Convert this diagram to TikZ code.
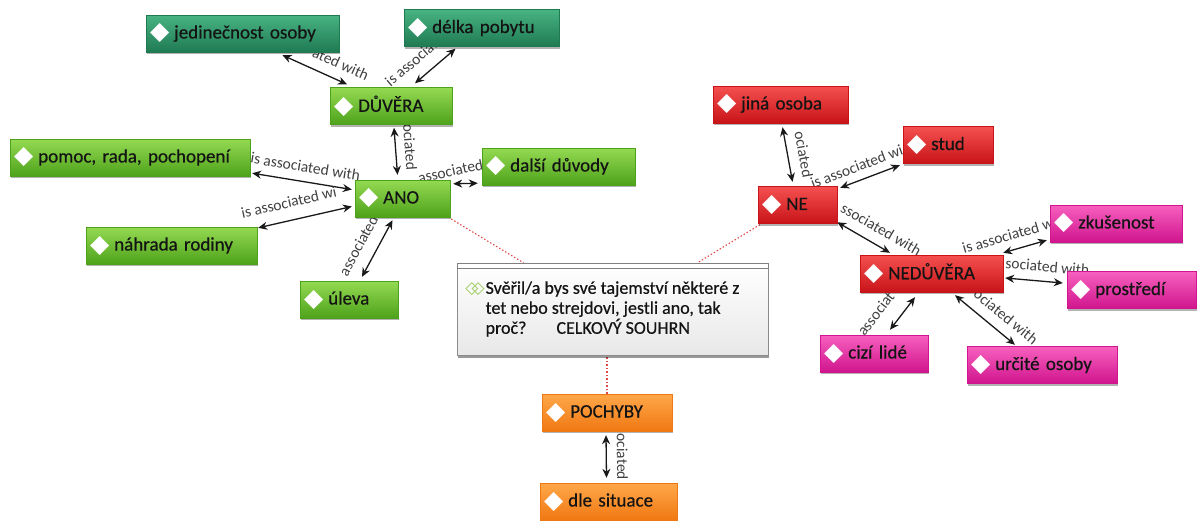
\documentclass[tikz,border=0pt]{standalone}
\usepackage{fontspec}
\setmainfont{Carlito}
\newfontfamily\codefont{Carlito}[BoldFont={Carlito}, BoldFeatures={FakeBold=0.5}]
\newfontfamily\symbfont{DejaVu Sans}
\usetikzlibrary{arrows.meta, backgrounds, shadows}

\definecolor{gtop}{HTML}{94DA52}
\definecolor{gbot}{HTML}{4EA21B}
\definecolor{ttop}{HTML}{48B383}
\definecolor{tbot}{HTML}{1F7A52}
\definecolor{rtop}{HTML}{F55050}
\definecolor{rbot}{HTML}{C81418}
\definecolor{mtop}{HTML}{F760BE}
\definecolor{mbot}{HTML}{D0158E}
\definecolor{otop}{HTML}{FFA84A}
\definecolor{obot}{HTML}{F07812}
\definecolor{linkred}{HTML}{E04848}
\definecolor{memogreen}{HTML}{9BCB5E}

\newcommand{\ico}{\raisebox{-1.5pt}{\symbfont\fontsize{25}{25}\selectfont\textcolor{white}{◆}}\hspace{5pt}}
\newcommand{\memoico}{{\symbfont\fontsize{17}{17}\selectfont\textcolor{memogreen}{◇\kern-7pt◇}}}

\begin{document}
\begin{tikzpicture}[
    x=1pt, y=-1pt,
    code/.style={rectangle, minimum height=37pt, inner xsep=4pt, inner ysep=0pt, align=left,
        font=\codefont\bfseries\fontsize{19}{21}\selectfont, text=black!92, draw=#1bot, top color=#1top, bottom color=#1bot,
        drop shadow={shadow xshift=1pt, shadow yshift=-2pt, fill=black, opacity=0.3}},
    memo/.style={rectangle, draw=black!45, top color=white, bottom color=black!9, minimum width=311pt,
        minimum height=92pt, align=left, font=\codefont\bfseries\fontsize{18}{20}\selectfont, text=black!92,
        drop shadow={shadow xshift=1pt, shadow yshift=-2.5pt, fill=black, opacity=0.4}},
    assoc/.style={{Stealth[length=9pt, width=8pt]}-{Stealth[length=9pt, width=8pt]}, line width=1.3pt, black!90},
    lbl/.style={font=\fontsize{15.5}{15.5}\selectfont, text=black!75, inner sep=1pt},
    link/.style={draw=linkred, line width=1.1pt, dash pattern=on 1.5pt off 2pt},
]
\useasboundingbox (0,0) rectangle (1202,520);

\node[code=t, text width=185pt] (jedinecnost) at (242.5,33.5) {\ico jedinečnost osoby};
\node[code=t, text width=147pt] (delka) at (481.5,28) {\ico délka pobytu};
\node[code=g, text width=114pt] (duvera) at (391,106) {\ico DŮVĚRA};
\node[code=g, text width=232pt] (pomoc) at (130,157.5) {\ico pomoc, rada, pochopení};
\node[code=g, text width=145pt] (dalsi) at (558.5,166.5) {\ico další důvody};
\node[code=g, text width=87pt] (ano) at (402.5,198.5) {\ico ANO};
\node[code=g, text width=163pt] (nahrada) at (171.5,245.5) {\ico náhrada rodiny};
\node[code=g, text width=90pt] (uleva) at (349,299.5) {\ico úleva};

\node[memo] (souhrn) at (612.5,309) {\llap{\memoico\hspace{1pt}}Svěřil/a bys své tajemství některé z\\
    tet nebo strejdovi, jestli ano, tak\\
    proč?\hspace{30pt}CELKOVÝ SOUHRN};
\draw[fill=white, draw=black!50] (souhrn.north west) rectangle ([yshift=-5pt]souhrn.north east);

\node[code=o, text width=122pt] (pochyby) at (607,412.5) {\ico POCHYBY};
\node[code=o, text width=129pt] (situace) at (608.5,501.5) {\ico dle situace};

\node[code=r, text width=127pt] (jina) at (780.5,104.5) {\ico jiná osoba};
\node[code=r, text width=82pt] (stud) at (948,145) {\ico stud};
\node[code=r, text width=71pt] (ne) at (797.5,205) {\ico NE};
\node[code=r, text width=135pt] (neduvera) at (931.5,273.5) {\ico NEDŮVĚRA};
\node[code=m, text width=124pt] (zkusenost) at (1116,223.5) {\ico zkušenost};
\node[code=m, text width=121pt] (prostredi) at (1131.5,290) {\ico prostředí};
\node[code=m, text width=100pt] (cizi) at (874,353.5) {\ico cizí lidé};
\node[code=m, text width=142pt] (urcite) at (1042,365) {\ico určité osoby};

\begin{scope}[on background layer]
\draw[assoc] ([xshift=40pt,yshift=-3pt]jedinecnost.south) -- node[lbl, sloped, pos=.8, above=9pt] {ated with} ([xshift=-44pt,yshift=3pt]duvera.north);
\draw[assoc] ([xshift=24pt,yshift=4pt]duvera.north) -- node[lbl, sloped, pos=.2, above=11pt] {is associat} ([xshift=-26pt,yshift=-2pt]delka.south);
\draw[assoc] ([xshift=3pt,yshift=-3pt]duvera.south) -- node[lbl, sloped, pos=.43, above=7.5pt] {ociated} ([xshift=-5pt,yshift=5pt]ano.north);
\draw[assoc] ([xshift=3pt,yshift=-4pt]ano.north east) -- node[lbl, pos=0, rotate=12, above=6pt] {associated} ([xshift=-4pt,yshift=2pt]dalsi.south west);
\draw[assoc] ([xshift=2pt,yshift=3pt]pomoc.south east) -- node[lbl, sloped, pos=.51, above=8pt] {is associated with} ([xshift=-3pt,yshift=9pt]ano.west);
\draw[assoc] ([xshift=1pt,yshift=-1pt]nahrada.north east) -- node[lbl, sloped, pos=.37, above=11pt] {is associated wi} ([xshift=-3pt,yshift=-8pt]ano.west);
\draw[assoc] ([xshift=13pt,yshift=4pt]uleva.north) -- node[lbl, sloped, pos=.4, above=11pt] {associated} ([xshift=-10pt,yshift=-3pt]ano.south);

\draw[link] ([xshift=-2pt]ano.south east) -- ([xshift=-89pt]souhrn.north);
\draw[link] ([xshift=2pt,yshift=-1pt]ne.south west) -- ([xshift=85pt]souhrn.north);
\draw[link] (pochyby.north) -- (pochyby.north |- souhrn.south);

\draw[assoc] ([xshift=-1pt,yshift=-4pt]pochyby.south) -- node[lbl, sloped, pos=.51, above=9pt] {ociated} ([xshift=-2pt,yshift=5pt]situace.north);

\draw[assoc] ([xshift=2pt,yshift=-4pt]jina.south) -- node[lbl, sloped, pos=.55, above=9pt] {ociated} ([xshift=-5pt,yshift=4.5pt]ne.north);
\draw[assoc] ([xshift=3pt,yshift=-1.5pt]ne.north east) -- node[lbl, sloped, pos=.36, above=7pt] {is associated wi} ([xshift=-3pt,yshift=-1.5pt]stud.south west);
\draw[assoc] ([yshift=1.5pt]ne.south east) -- node[lbl, sloped, pos=.68, above=9pt] {ssociated with} ([xshift=-41.5pt,yshift=2pt]neduvera.north);
\draw[assoc] ([yshift=2pt]neduvera.north east) -- node[lbl, sloped, pos=.2, above=8pt] {is associated w} ([xshift=-3pt,yshift=2pt]zkusenost.south west);
\draw[assoc] ([xshift=2pt,yshift=-4.5pt]neduvera.east) -- node[lbl, sloped, pos=.71, above=8pt] {sociated with} ([xshift=-4pt,yshift=7pt]prostredi.west);
\draw[assoc] ([xshift=16pt,yshift=5pt]cizi.north) -- node[lbl, sloped, pos=.1, above=14pt] {associat} ([xshift=-16.5pt,yshift=-5pt]neduvera.south);
\draw[assoc] ([xshift=23.5pt,yshift=-3pt]neduvera.south) -- node[lbl, sloped, pos=.68, above=9pt] {ociated with} ([xshift=-27pt,yshift=1.5pt]urcite.north);
\end{scope}

\end{tikzpicture}
\end{document}
